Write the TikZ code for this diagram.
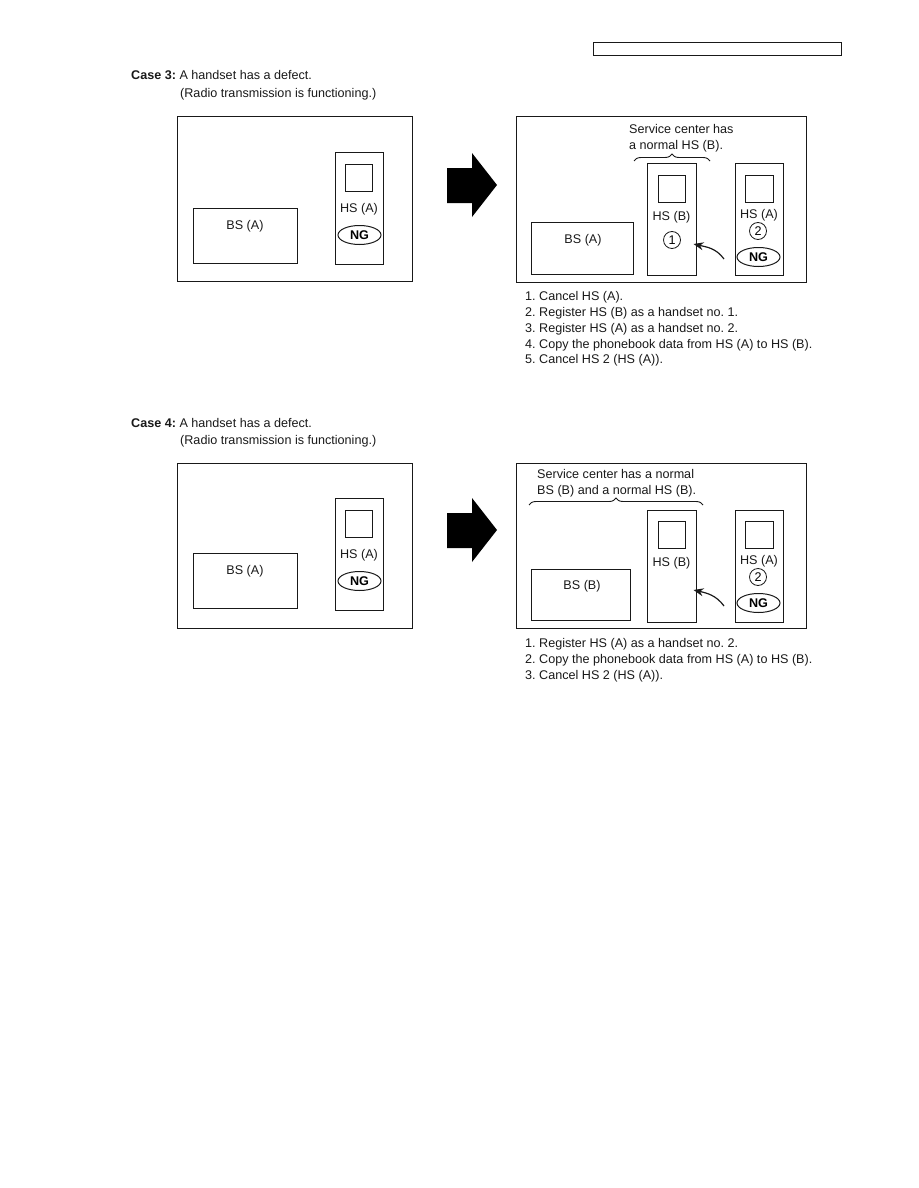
\documentclass[tikz,border=0pt]{standalone}
\usepackage{fontspec}
\setmainfont{Liberation Sans}
\usepackage{xcolor}
\usepackage{tikz}
\usetikzlibrary{shapes.geometric, arrows.meta, positioning, calc, decorations.pathreplacing}
\definecolor{inkcol}{RGB}{25, 25, 25}
\newcommand{\txtsize}{\fontsize{12.6}{15.8}\selectfont\frenchspacing}
\tikzset{
    boxline/.style={
        rectangle,
        draw=inkcol,
        line width=1pt,
        inner sep=0pt
    },
    outerbox/.style={boxline, minimum width=235pt, minimum height=165pt},
    basebox/.style={boxline, minimum width=102pt, minimum height=52pt},
    handset/.style={boxline, minimum width=48pt, minimum height=112pt},
    screen/.style={boxline, minimum width=27pt, minimum height=27pt},
    lbl/.style={inner sep=0pt, font=\txtsize, text=inkcol},
    ngmark/.style={
        ellipse,
        draw=inkcol,
        line width=1pt,
        minimum width=43pt,
        minimum height=19pt,
        inner sep=0pt,
        font=\txtsize\bfseries
    },
    numcirc/.style={circle, draw=inkcol, line width=0.8pt, minimum size=17pt, inner sep=0pt, font=\txtsize},
    brace/.style={draw=inkcol, line width=0.9pt, decorate, decoration={brace, amplitude=7pt}},
    arrow/.style={
        line width=1.2pt,
        ->,
        >={Stealth[length=10pt, width=8pt]},
        color=inkcol
    },
    bigarrow/.style={fill=black}
}

\begin{document}
\begin{tikzpicture}[x=1pt, y=-1pt]
    \useasboundingbox (0,0) rectangle (918,1188);

    % --- HEADER ---
    \node (hdr) [boxline, minimum width=248pt, minimum height=13pt] at (717,49.5) {};

    % --- CASE 3 ---
    \node (case3) [lbl, anchor=base west] at (131,79.5) {\textbf{Case 3:} A handset has a defect.};
    \node (case3b) [lbl, anchor=base west] at (180,97.5) {(Radio transmission is functioning.)};

    % left: before
    \node (befL3) [outerbox] at (294.5,199) {};
    \node (bsL3) [basebox, minimum width=104pt, minimum height=55pt] at (245,235.5) {};
    \node (bsL3t) [lbl] at (245,226) {BS (A)};
    \node (hsL3) [handset] at (359,208) {};
    \node (scrL3) [screen] at (359,177.5) {};
    \node (hsL3t) [lbl] at (359,209) {HS (A)};
    \node (ngL3) [ngmark] at (359.5,235) {NG};

    \fill[bigarrow] (447,168) -- (472,168) -- (472,153) -- (497,185) -- (472,217) -- (472,203) -- (447,203) -- cycle;

    % right: after
    \node (aftR3) [outerbox, minimum width=290pt] at (661,199.5) {};
    \node (svc3) [lbl, align=left, anchor=north west] at (629,124.5) {Service center has\\a normal HS (B).};
    \node (bsR3) [basebox] at (582.5,248.5) {};
    \node (bsR3t) [lbl] at (583,240) {BS (A)};
    \node (hsB3) [handset, minimum width=49pt] at (671.5,219) {};
    \node (scrB3) [screen] at (671.5,188.5) {};
    \node (hsB3t) [lbl] at (671.5,217) {HS (B)};
    \node (num1) [numcirc] at (672,240) {1};
    \node (hsA3) [handset] at (759,219) {};
    \node (scrA3) [screen, minimum width=28pt] at (759,188.5) {};
    \node (hsA3t) [lbl] at (759,215) {HS (A)};
    \node (num2a) [numcirc] at (758,231) {2};
    \node (ngA3) [ngmark] at (758.5,257) {NG};

    \coordinate (brL3) at (634,161);
    \coordinate (brR3) at (710,161);
    \draw [brace] (brL3) -- (brR3);

    \coordinate (regA3) at (724,259);
    \coordinate (regB3) at ([xshift=-3pt, yshift=-25pt]hsB3.east);
    \draw [arrow] (regA3) .. controls +(-8,-11) and +(13,3) .. (regB3);

    \node (steps3) [lbl, align=left, anchor=north west] at (525,291.3) {1. Cancel HS (A).\\2. Register HS (B) as a handset no. 1.\\3. Register HS (A) as a handset no. 2.\\4. Copy the phonebook data from HS (A) to HS (B).\\5. Cancel HS 2 (HS (A)).};

    % --- CASE 4 ---
    \node (case4) [lbl, anchor=base west] at (131,427.5) {\textbf{Case 4:} A handset has a defect.};
    \node (case4b) [lbl, anchor=base west] at (180,444.5) {(Radio transmission is functioning.)};

    % left: before
    \node (befL4) [outerbox] at (294.5,545.5) {};
    \node (bsL4) [basebox, minimum width=104pt, minimum height=55pt] at (245,580.5) {};
    \node (bsL4t) [lbl] at (245,571) {BS (A)};
    \node (hsL4) [handset] at (359,554) {};
    \node (scrL4) [screen] at (359,523.5) {};
    \node (hsL4t) [lbl] at (359,555) {HS (A)};
    \node (ngL4) [ngmark] at (359.5,581) {NG};

    \fill[bigarrow] (447,513) -- (472,513) -- (472,498) -- (497,530) -- (472,562) -- (472,548) -- (447,548) -- cycle;

    % right: after
    \node (aftR4) [outerbox, minimum width=290pt] at (661,545.5) {};
    \node (svc4) [lbl, align=left, anchor=north west] at (537,469.5) {Service center has a normal\\BS (B) and a normal HS (B).};
    \node (bsR4) [basebox, minimum width=99pt, minimum height=51pt] at (580.5,594.5) {};
    \node (bsR4t) [lbl] at (582,586) {BS (B)};
    \node (hsB4) [handset, minimum width=49pt] at (671.5,566) {};
    \node (scrB4) [screen] at (671.5,535) {};
    \node (hsB4t) [lbl] at (671.5,563) {HS (B)};
    \node (hsA4) [handset] at (759,566) {};
    \node (scrA4) [screen, minimum width=28pt] at (759,535) {};
    \node (hsA4t) [lbl] at (759,561) {HS (A)};
    \node (num2b) [numcirc] at (758,577) {2};
    \node (ngA4) [ngmark] at (758.5,603) {NG};

    \coordinate (brL4) at (529,505);
    \coordinate (brR4) at (703,505);
    \draw [brace] (brL4) -- (brR4);

    \coordinate (regA4) at (724,606);
    \coordinate (regB4) at ([xshift=-3pt, yshift=-24pt]hsB4.east);
    \draw [arrow] (regA4) .. controls +(-8,-11) and +(13,3) .. (regB4);

    \node (steps4) [lbl, align=left, anchor=north west] at (525,638.3) {1. Register HS (A) as a handset no. 2.\\2. Copy the phonebook data from HS (A) to HS (B).\\3. Cancel HS 2 (HS (A)).};
\end{tikzpicture}
\end{document}
